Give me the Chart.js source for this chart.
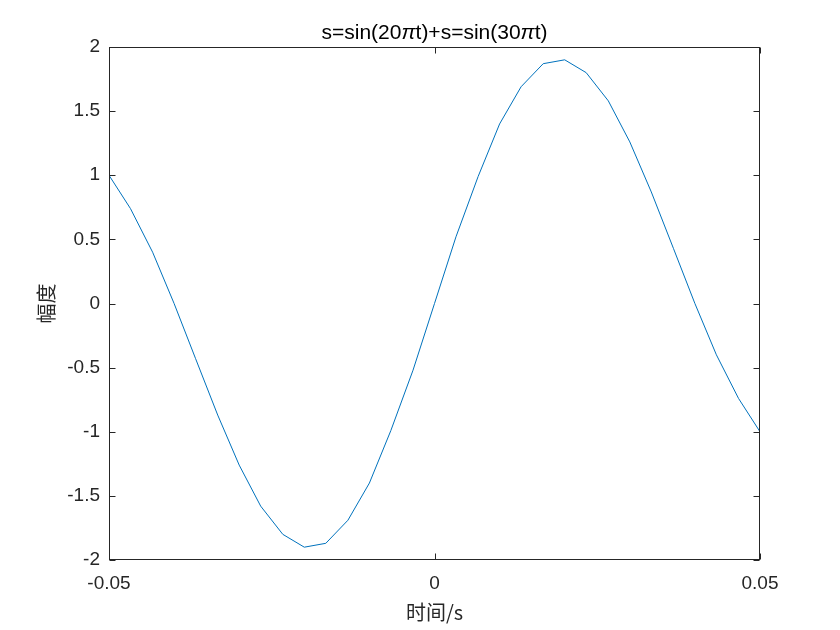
<!DOCTYPE html>
<html>
<head>
<meta charset="utf-8">
<script src="https://cdn.jsdelivr.net/npm/chart.js@4.4.1/dist/chart.umd.min.js"></script>
<style>
  html, body { margin: 0; padding: 0; background: #fff; }
  #wrap { width: 840px; height: 630px; }
</style>
</head>
<body>
<div id="wrap"><canvas id="signalChart" width="840" height="630"></canvas></div>
<script>
// temps (s) et amplitude
const timeValues = [
  -0.05, -0.0467, -0.0433, -0.04, -0.0367, -0.0333, -0.03, -0.0267, -0.0233, -0.02, -0.0167,
  -0.0133, -0.01, -0.0067, -0.0033, 0, 0.0033, 0.0067, 0.01, 0.0133, 0.0167,
  0.02, 0.0233, 0.0267, 0.03, 0.0333, 0.0367, 0.04, 0.0433, 0.0467, 0.05
];
const amplitudeValues = [
  1.0, 0.74, 0.40, 0.0, -0.43, -0.87, -1.26, -1.58, -1.80, -1.90, -1.87,
  -1.69, -1.40, -0.99, -0.52, 0.0, 0.52, 0.99, 1.40, 1.69, 1.87,
  1.90, 1.80, 1.58, 1.26, 0.87, 0.43, 0.0, -0.40, -0.74, -1.0
];
const xTicks = [-0.05, 0, 0.05];
const xTickLabels = ['-0.05', '0', '0.05'];
const yTicks = [-2, -1.5, -1, -0.5, 0, 0.5, 1, 1.5, 2];
const yTickLabels = ['-2', '-1.5', '-1', '-0.5', '0', '0.5', '1', '1.5', '2'];

const titleParts = [['s=sin(20', false], ['π', true], ['t)+s=sin(30', false], ['π', true], ['t)', false]];
const xLabel = '时间/s';
const yLabel = '幅度';

const axisColor = '#262626';
const tickFont = '"Liberation Sans", Arial, sans-serif';
const cjkFont = '"Noto Sans CJK SC", sans-serif';

// cadre + graduations intérieures + textes
const matlabAxes = {
  id: 'matlabAxes',
  beforeDraw(chart) {
    const c = chart.ctx;
    c.save();
    c.fillStyle = '#fff';
    c.fillRect(0, 0, chart.width, chart.height);
    c.restore();
  },
  afterDraw(chart) {
    const c = chart.ctx;
    const a = chart.chartArea;
    const xs = chart.scales.x, ys = chart.scales.y;
    const L = Math.round(a.left) + 0.5, R = Math.round(a.right) - 0.5;
    const T = Math.round(a.top) + 0.5, B = Math.round(a.bottom) - 0.5;
    const tick = 6;
    c.save();
    c.strokeStyle = axisColor;
    c.lineWidth = 1;
    c.strokeRect(L, T, R - L, B - T);
    c.beginPath();
    xTicks.forEach(v => {
      const px = Math.round(xs.getPixelForValue(v)) + 0.5;
      c.moveTo(px, B); c.lineTo(px, B - tick);
      c.moveTo(px, T); c.lineTo(px, T + tick);
    });
    yTicks.forEach(v => {
      const py = Math.round(ys.getPixelForValue(v)) + 0.5;
      c.moveTo(L, py); c.lineTo(L + tick, py);
      c.moveTo(R, py); c.lineTo(R - tick, py);
    });
    c.stroke();

    // titre (π en italique)
    c.fillStyle = '#000';
    c.textBaseline = 'alphabetic';
    const fontFor = it => (it ? 'italic ' : '') + '21px ' + tickFont;
    let total = 0;
    titleParts.forEach(([s, it]) => { c.font = fontFor(it); total += c.measureText(s).width; });
    let x = (a.left + a.right) / 2 - total / 2;
    c.textAlign = 'left';
    titleParts.forEach(([s, it]) => {
      c.font = fontFor(it);
      c.fillText(s, x, 39);
      x += c.measureText(s).width;
    });

    // libellés d'axes
    c.fillStyle = axisColor;
    c.font = '20px ' + cjkFont;
    c.textAlign = 'center';
    c.textBaseline = 'middle';
    c.fillText(xLabel, (a.left + a.right) / 2, 612);
    c.translate(46, (a.top + a.bottom) / 2);
    c.rotate(-Math.PI / 2);
    c.fillText(yLabel, 0, 0);
    c.restore();
  }
};

new Chart(document.getElementById('signalChart'), {
  type: 'line',
  data: {
    datasets: [{
      data: timeValues.map((t, i) => ({ x: t, y: amplitudeValues[i] })),
      borderColor: '#0072BD',
      borderWidth: 1,
      pointRadius: 0,
      tension: 0,
      fill: false
    }]
  },
  options: {
    responsive: false,
    animation: false,
    layout: { padding: { top: 47, right: 80, left: 0, bottom: 0 } },
    plugins: { legend: { display: false }, tooltip: { enabled: false }, title: { display: false } },
    scales: {
      x: {
        type: 'linear',
        min: -0.05,
        max: 0.05,
        afterBuildTicks: s => { s.ticks = xTicks.map(v => ({ value: v })); },
        afterFit: s => { s.height = 70; },
        grid: { display: false, drawTicks: false },
        border: { display: false },
        ticks: {
          color: axisColor,
          padding: 12,
          maxRotation: 0,
          font: { family: tickFont, size: 19 },
          callback: (v) => xTickLabels[xTicks.indexOf(v)] ?? ''
        }
      },
      y: {
        type: 'linear',
        min: -2,
        max: 2,
        afterBuildTicks: s => { s.ticks = yTicks.map(v => ({ value: v })); },
        afterFit: s => { s.width = 109; },
        grid: { display: false, drawTicks: false },
        border: { display: false },
        ticks: {
          color: axisColor,
          padding: 9,
          font: { family: tickFont, size: 19 },
          callback: (v) => yTickLabels[yTicks.indexOf(v)] ?? ''
        }
      }
    }
  },
  plugins: [matlabAxes]
});
</script>
</body>
</html>
